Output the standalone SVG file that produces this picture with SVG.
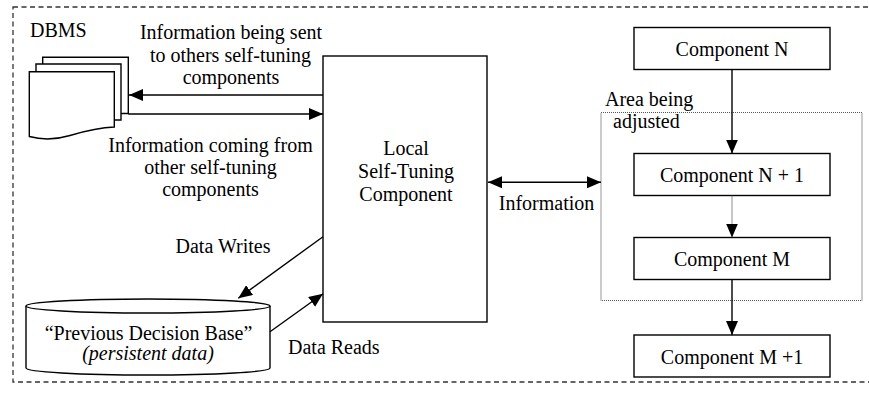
<svg xmlns="http://www.w3.org/2000/svg" width="869" height="394" viewBox="0 0 869 394" font-family="'Liberation Serif', 'Times New Roman', Tinos, 'DejaVu Serif', serif">
<style>
text{font-family:'Liberation Serif','Times New Roman',Tinos,serif;font-size:20px;fill:#000}
.c{text-anchor:middle}
.box{fill:#fff;stroke:#000;stroke-width:1.4}
.ln{fill:none;stroke:#000;stroke-width:1.4}
</style>
<defs>
<marker id="ah" markerUnits="userSpaceOnUse" markerWidth="16" markerHeight="12" refX="14" refY="6" orient="auto-start-reverse">
<path d="M0,0 L14,6 L0,12 z" fill="#000"/>
</marker>
</defs>
<rect x="13" y="7" width="880" height="375" fill="none" stroke="#333" stroke-width="1.3" stroke-dasharray="5,3.5"/>
<g id="area">
<rect x="601" y="112.5" width="261" height="188" fill="none" stroke="#555" stroke-width="1.2" stroke-dasharray="1,1"/>
<text x="605" y="106">Area being</text>
<text x="613" y="128">adjusted</text>
</g>
<g id="dbms">
<text x="30" y="36.5">DBMS</text>
<path class="box" d="M42.7,57.3 H128.3 V113.5 H42.7 Z"/>
<path class="box" d="M36,64 H121 V120 H36 Z"/>
<path class="box" d="M29.3,71.7 H114.3 V127 C98,127.5 85,131 70,135.5 C55,140 42,140 29.3,136.5 Z"/>
</g>
<g id="local">
<rect class="box" x="323" y="56" width="164" height="266"/>
<text class="c" x="406" y="155">Local</text>
<text class="c" x="406" y="178">Self-Tuning</text>
<text class="c" x="406" y="201">Component</text>
</g>
<g id="pdb">
<path class="box" d="M26,306 V368 A122,7 0 0 0 270,368 V306"/>
<ellipse class="box" cx="148" cy="306" rx="122" ry="7"/>
<text class="c" x="148.5" y="340">“Previous Decision Base”</text>
<text class="c" x="148" y="360" font-style="italic">(persistent data)</text>
</g>
<g id="compN">
<rect class="box" x="634" y="27.5" width="196" height="42"/>
<text class="c" x="732" y="56">Component N</text>
</g>
<g id="compN1">
<rect class="box" x="634" y="153.5" width="196" height="42"/>
<text class="c" x="732" y="182">Component N + 1</text>
</g>
<g id="compM">
<rect class="box" x="634" y="237.5" width="196" height="42"/>
<text class="c" x="732" y="266">Component M</text>
</g>
<g id="compM1">
<rect class="box" x="634" y="335" width="196" height="42"/>
<text class="c" x="732" y="363.5">Component M +1</text>
</g>
<g id="connectors">
<line class="ln" x1="323" y1="95" x2="129" y2="95" marker-end="url(#ah)"/>
<line class="ln" x1="128.3" y1="114" x2="323" y2="114" marker-end="url(#ah)"/>
<line class="ln" x1="323" y1="236.7" x2="238.3" y2="298.3" marker-end="url(#ah)"/>
<line class="ln" x1="270" y1="331.7" x2="323" y2="293.8" marker-end="url(#ah)"/>
<line class="ln" x1="488" y1="182.3" x2="601" y2="182.3" marker-start="url(#ah)" marker-end="url(#ah)"/>
<line class="ln" x1="732" y1="69.5" x2="732" y2="153.5" marker-end="url(#ah)"/>
<line x1="732" y1="195.5" x2="732" y2="237.5" stroke="#444" stroke-width="1.2" stroke-dasharray="1,1" marker-end="url(#ah)"/>
<line class="ln" x1="732" y1="279.5" x2="732" y2="335" marker-end="url(#ah)"/>
<text class="c" x="231" y="39.3">Information being sent</text>
<text class="c" x="230.5" y="61.5">to others self-tuning</text>
<text class="c" x="231" y="83.5">components</text>
<text class="c" x="210.5" y="151.5">Information coming from</text>
<text class="c" x="210.5" y="173.5">other self-tuning</text>
<text class="c" x="210.5" y="195.5">components</text>
<text class="c" x="223" y="253.3">Data Writes</text>
<text x="288" y="354">Data Reads</text>
<text class="c" x="546.5" y="210">Information</text>
</g>
</svg>
